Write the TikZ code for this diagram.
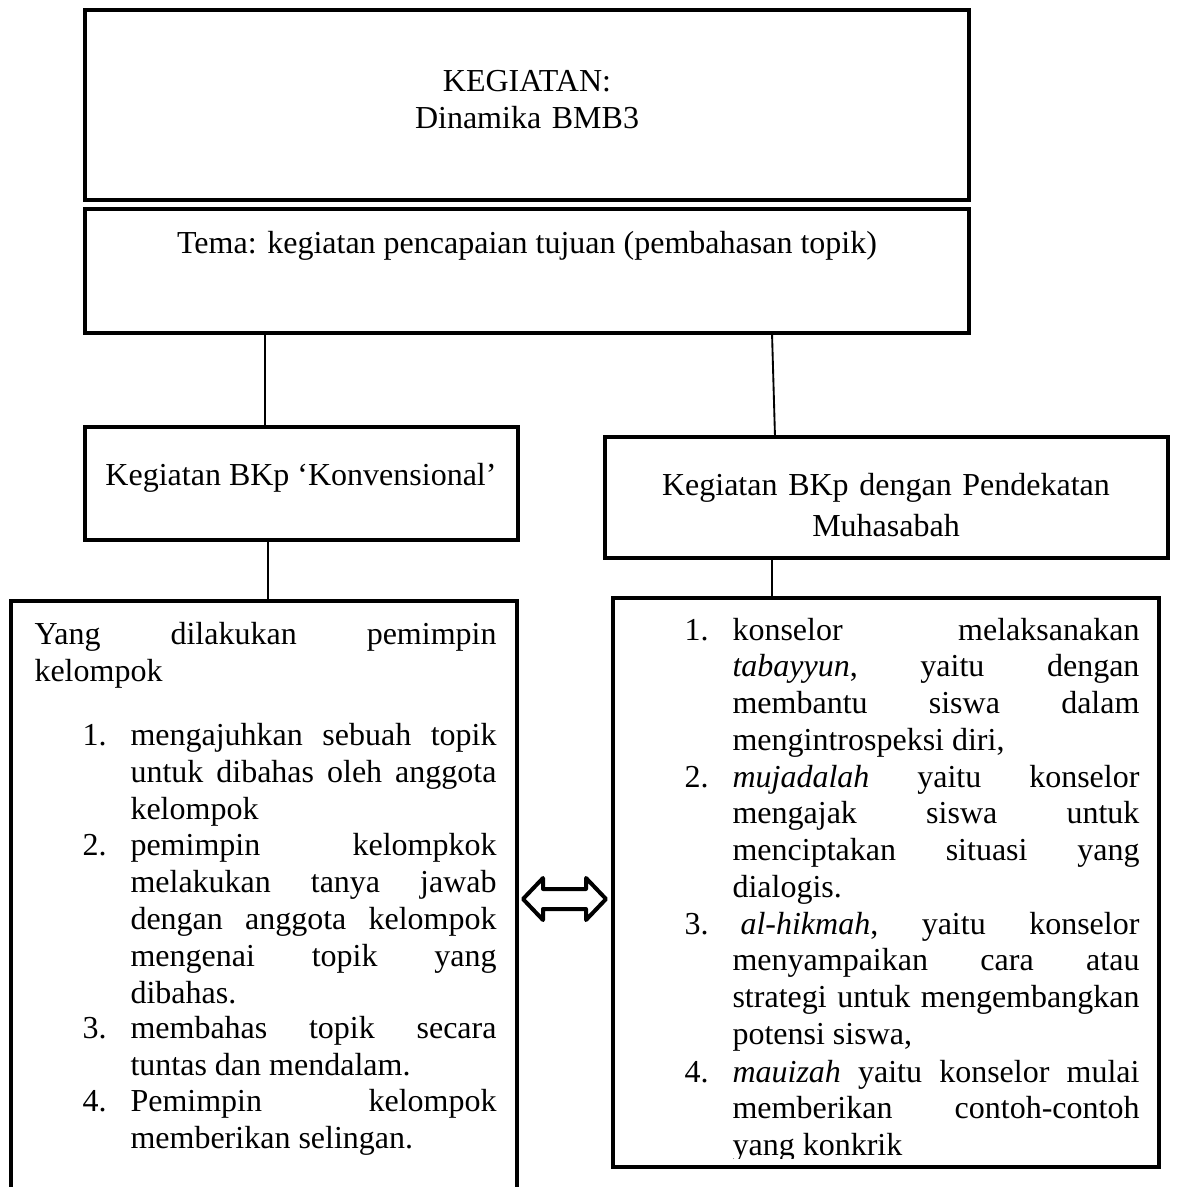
\documentclass[tikz,border=0pt]{standalone}
\usepackage{fontspec}
\setmainfont{Liberation Serif}
\usetikzlibrary{calc,fit}

\tikzset{
  kotak/.style={draw, line width=1.7pt, inner sep=0pt, outer sep=0pt},
  garis/.style={line width=0.7pt},
  panah/.style={line width=1.5pt, line join=round},
  teks/.style={inner sep=0pt, font=\fontsize{12pt}{13.875pt}\selectfont},
  rata/.style={teks, align=justify, text width=#1, anchor=base west,
    execute at begin node={\frenchspacing\tolerance=10000\hbadness=10000\hyphenpenalty=10000}},
  nomor/.style={teks, anchor=base west},
}

\begin{document}
\begin{tikzpicture}[x=0.375pt,y=-0.375pt]
		\clip (0,0) rectangle (1187,1187);
		
		%%%%% kotak %%%%%
		\node[kotak, fit={(85,10) (969,200)}] (judul) {};
		\node[kotak, fit={(85,209) (969,333)}] (tema) {};
		\node[kotak, fit={(85,427) (518,540)}] (konv) {};
		\node[kotak, fit={(605,437) (1168,558)}] (muha) {};
		\node[kotak, fit={(11,601) (517,1240)}] (kiri) {};
		\node[kotak, fit={(613,598) (1159,1167)}] (kanan) {};
		
		%%%%% garis %%%%%
		\draw[garis] (265,0 |- tema.south) -- (265,0 |- konv.north);
		\draw[garis] (772,0 |- tema.south) -- (775,0 |- muha.north);
		\draw[garis] (268,0 |- konv.south) -- (268,0 |- kiri.north);
		\draw[garis] (772,0 |- muha.south) -- (772,0 |- kanan.north);
		
		\draw[panah] (523,899) -- (543,878) -- (543,889) -- (586,889) -- (586,878) -- (606,899)
			-- (586,920) -- (586,909) -- (543,909) -- (543,920) -- cycle;
		
		%%%%% judul %%%%%
		\node[teks, text width=300pt, align=center, anchor=base] (tjudul) at (527,92) {KEGIATAN:\\Dinamika BMB3};
		\node[teks, anchor=base] (ttema) at (527,254) {Tema: kegiatan pencapaian tujuan (pembahasan topik)};
		\node[teks, anchor=base] (tkonv) at (301,485) {Kegiatan BKp ‘Konvensional’};
		\node[teks, text width=250pt, align=center, anchor=base, font=\fontsize{12pt}{15.6pt}\selectfont] (tmuha) at (886,495) {Kegiatan BKp dengan Pendekatan\\Muhasabah};
		
		%%%%% kiri %%%%%
		\node[rata=173.25pt] (kpembuka) at (34,644) {Yang dilakukan pemimpin\linebreak kelompok};
		\node[nomor] (kn1) at (82,745) {1.};
		\node[rata=137.25pt] (ki1) at (130,745) {mengajuhkan sebuah topik\linebreak untuk dibahas oleh anggota\linebreak kelompok};
		\node[nomor] (kn2) at (82,855) {2.};
		\node[rata=137.25pt] (ki2) at (130,855) {pemimpin kelompkok\linebreak melakukan tanya jawab\linebreak dengan anggota kelompok\linebreak mengenai topik yang\linebreak dibahas.};
		\node[nomor] (kn3) at (82,1038) {3.};
		\node[rata=137.25pt] (ki3) at (130,1038) {membahas topik secara\linebreak tuntas dan mendalam.};
		\node[nomor] (kn4) at (82,1111) {4.};
		\node[rata=137.25pt] (ki4) at (130,1111) {Pemimpin kelompok\linebreak memberikan selingan.};
		
		%%%%% kanan %%%%%
		\begin{scope}[teks/.append style={font=\fontsize{12pt}{13.8pt}\selectfont}]
		\clip (kanan.north west) rectangle ($(kanan.south east)+(0,-9)$);
		\node[nomor] (nn1) at (684,640) {1.};
		\node[rata=152.6pt] (ni1) at (732,640) {konselor melaksanakan\linebreak \textit{tabayyun}, yaitu dengan\linebreak membantu siswa dalam\linebreak mengintrospeksi diri,};
		\node[nomor] (nn2) at (684,787) {2.};
		\node[rata=152.6pt] (ni2) at (732,787) {\textit{mujadalah} yaitu konselor\linebreak mengajak siswa untuk\linebreak menciptakan situasi yang\linebreak dialogis.};
		\node[nomor] (nn3) at (684,934) {3.};
		\node[rata=152.6pt] (ni3) at (732,934) {\hspace*{3pt}\textit{al-hikmah}, yaitu konselor\linebreak menyampaikan cara atau\linebreak strategi untuk mengembangkan\linebreak potensi siswa,};
		\node[nomor] (nn4) at (684,1082) {4.};
		\node[rata=152.6pt] (ni4) at (732,1082) {\textit{mauizah} yaitu konselor mulai\linebreak memberikan contoh-contoh\linebreak yang konkrik};
		\end{scope}
		
	\end{tikzpicture}
\end{document}
